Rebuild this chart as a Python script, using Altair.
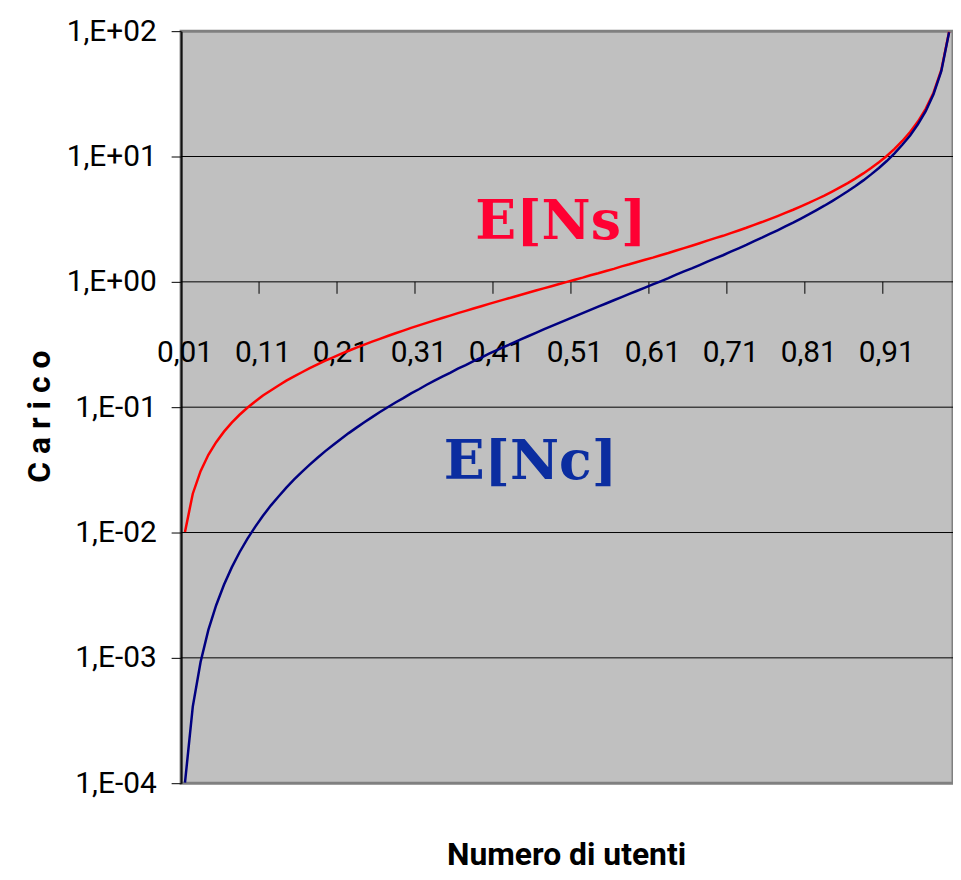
import altair as alt
import pandas as pd

# ---------------- data ----------------
utenti = [round(i / 100, 2) for i in range(1, 100)]  # categories 0,01 ... 0,99

e_ns = [0.0101, 0.0204, 0.0309, 0.0417, 0.0526, 0.0638, 0.0753, 0.0870, 0.0989, 0.111,
        0.124, 0.136, 0.149, 0.163, 0.176, 0.190, 0.205, 0.220, 0.235, 0.250,
        0.266, 0.282, 0.299, 0.316, 0.333, 0.351, 0.370, 0.389, 0.408, 0.429,
        0.449, 0.471, 0.493, 0.515, 0.538, 0.563, 0.587, 0.613, 0.639, 0.667,
        0.695, 0.724, 0.754, 0.786, 0.818, 0.852, 0.887, 0.923, 0.961, 1.00,
        1.04, 1.08, 1.13, 1.17, 1.22, 1.27, 1.33, 1.38, 1.44, 1.50,
        1.56, 1.63, 1.70, 1.78, 1.86, 1.94, 2.03, 2.13, 2.23, 2.33,
        2.45, 2.57, 2.70, 2.85, 3.00, 3.17, 3.35, 3.55, 3.76, 4.00,
        4.26, 4.56, 4.88, 5.25, 5.67, 6.14, 6.69, 7.33, 8.09, 9.00,
        10.1, 11.5, 13.3, 15.7, 19.0, 24.0, 32.3, 49.0, 99.0]

e_nc = [0.000101, 0.000408, 0.000928, 0.00167, 0.00263, 0.00383, 0.00527, 0.00696, 0.00890, 0.0111,
        0.0136, 0.0164, 0.0194, 0.0228, 0.0265, 0.0305, 0.0348, 0.0395, 0.0446, 0.0500,
        0.0558, 0.0621, 0.0687, 0.0758, 0.0833, 0.0914, 0.0999, 0.109, 0.118, 0.129,
        0.139, 0.151, 0.163, 0.175, 0.188, 0.203, 0.217, 0.233, 0.249, 0.267,
        0.285, 0.304, 0.324, 0.346, 0.368, 0.392, 0.417, 0.443, 0.471, 0.500,
        0.531, 0.563, 0.598, 0.634, 0.672, 0.713, 0.756, 0.801, 0.849, 0.900,
        0.954, 1.01, 1.07, 1.14, 1.21, 1.28, 1.36, 1.45, 1.54, 1.63,
        1.74, 1.85, 1.97, 2.11, 2.25, 2.41, 2.58, 2.77, 2.97, 3.20,
        3.45, 3.74, 4.05, 4.41, 4.82, 5.28, 5.82, 6.45, 7.20, 8.10,
        9.20, 10.6, 12.4, 14.7, 18.1, 23.0, 31.4, 48.0, 98.0]

x_label_values = [0.01, 0.11, 0.21, 0.31, 0.41, 0.51, 0.61, 0.71, 0.81, 0.91]
x_label_texts = ["0,01", "0,11", "0,21", "0,31", "0,41", "0,51", "0,61", "0,71", "0,81", "0,91"]

y_ticks = [1e-4, 1e-3, 1e-2, 1e-1, 1, 10, 100]
y_tick_labels = ["1,E-04", "1,E-03", "1,E-02", "1,E-01", "1,E+00", "1,E+01", "1,E+02"]

annotations = ["E[Ns]", "E[Nc]"]
annotation_x = [0.492, 0.453]
annotation_y = [2.94, 0.036]
annotation_colors = ["#FF0033", "#0B2DA0"]

# ---------------- chart ----------------
FONT = "Roboto, Liberation Sans, sans-serif"
W, H = 776, 756

xs = alt.Scale(domain=[0.005, 0.995], nice=False, zero=False)
ys = alt.Scale(type="log", domain=[1e-4, 100], nice=False)

label_array = "[" + ",".join("'" + t + "'" for t in y_tick_labels) + "]"

x_axis = alt.Axis(labels=False, ticks=False, domain=False, grid=False,
                  title="Numero di utenti", titleFont=FONT, titleFontSize=32,
                  titleFontWeight="bold", titleColor="black",
                  titleX=387, titleY=82, titleAlign="center", titleBaseline="alphabetic")
y_axis = alt.Axis(values=y_ticks, labelExpr=label_array + "[round(log(datum.value)/LN10)+4]",
                  grid=False, tickColor="#000000", tickSize=10, tickWidth=1,
                  labelFont=FONT, labelFontSize=30, labelColor="black", labelPadding=15,
                  domainColor="#111111", domainWidth=2,
                  title="C a r i c o", titleFont=FONT, titleFontSize=32, titleFontWeight="bold",
                  titleColor="black", titleAngle=270, titleX=-132, titleY=387,
                  titleAlign="center", titleBaseline="alphabetic")

X = lambda f: alt.X(f, type="quantitative", scale=xs, axis=x_axis)
Y = lambda f: alt.Y(f, type="quantitative", scale=ys, axis=y_axis)

grid_df = pd.DataFrame({"v": y_ticks[1:-1]})
grid = alt.Chart(grid_df).mark_rule(color="#000000", strokeWidth=1).encode(y=Y("v"))

ns_df = pd.DataFrame({"u": utenti, "v": e_ns})
nc_df = pd.DataFrame({"u": utenti, "v": e_nc})
line_ns = alt.Chart(ns_df).mark_line(color="#FF0000", strokeWidth=2.5, clip=True).encode(x=X("u"), y=Y("v"))
line_nc = alt.Chart(nc_df).mark_line(color="#000080", strokeWidth=2.5, clip=True).encode(x=X("u"), y=Y("v"))

# x-axis drawn at y = 1 (Excel style crossing)
tick_len_ratio = 10 ** (-12 / 126)
ticks_df = pd.DataFrame({"u": [v - 0.005 for v in x_label_values[1:]], "v": 1.0, "v2": tick_len_ratio})
xticks = alt.Chart(ticks_df).mark_rule(color="#000000", strokeWidth=1).encode(
    x=X("u"), y=Y("v"), y2="v2")

xlab_df = pd.DataFrame({"u": x_label_values, "v": 0.228, "t": x_label_texts})
xlabels = alt.Chart(xlab_df).mark_text(font=FONT, fontSize=30, color="black",
                                       align="center", baseline="alphabetic").encode(
    x=X("u"), y=Y("v"), text="t")

ann_df = pd.DataFrame({"u": annotation_x, "v": annotation_y, "t": annotations, "c": annotation_colors})
ann = alt.Chart(ann_df).mark_text(font="DejaVu Serif", fontSize=54, fontWeight="bold",
                                  align="center", baseline="middle").encode(
    x=X("u"), y=Y("v"), text="t", color=alt.Color("c:N", scale=None))

chart = alt.layer(grid, xticks, xlabels, line_ns, line_nc, ann).properties(
    width=W, height=H,
    autosize=alt.AutoSizeParams(type="none"),
    padding={"left": 174, "top": 21, "right": 0, "bottom": 90},
    background="white",
).configure_view(fill="#C0C0C0", stroke="#808080", strokeWidth=3)

chart.save("out.html", embed_options={"renderer": "svg", "actions": False})
